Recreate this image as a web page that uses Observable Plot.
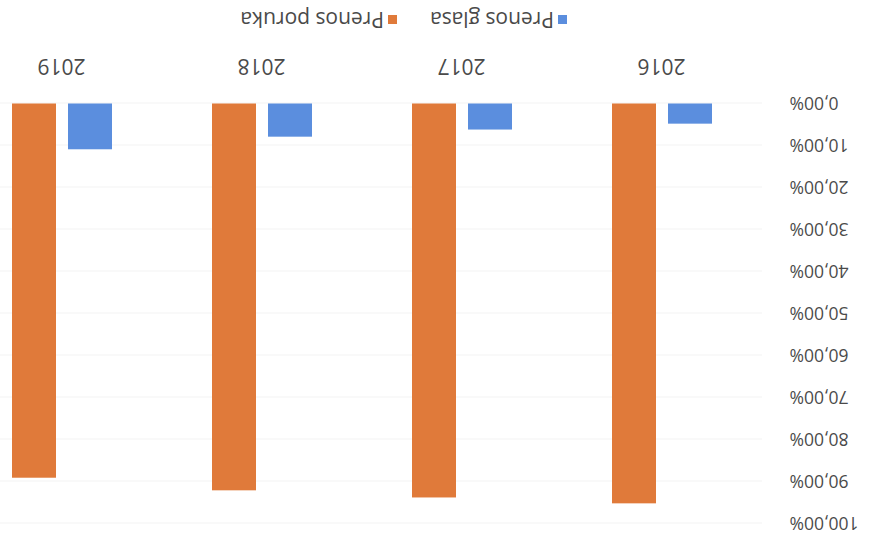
<!DOCTYPE html>
<html>
<head>
<meta charset="utf-8">
<script src="https://cdn.jsdelivr.net/npm/d3@7"></script>
<script src="https://cdn.jsdelivr.net/npm/@observablehq/plot@0.6"></script>
<style>
  html, body { margin: 0; padding: 0; background: #fff; }
  #wrap {
    position: relative; width: 876px; height: 539px; overflow: hidden;
    transform: rotate(180deg); transform-origin: 50% 50%;
    font-family: "Open Sans", sans-serif; color: #4a4a4a; background: #fff;
  }
  #chart { position: absolute; left: 0; top: 0; width: 916px; }
  #chart svg { max-width: none !important; }
  #legend {
    position: absolute; left: 309px; top: 504px; height: 30px;
    display: flex; align-items: center; font-size: 21px; white-space: nowrap;
  }
  .item { display: flex; align-items: center; margin-right: 33px; }
  .sw { width: 9px; height: 9px; margin-right: 4px; }
</style>
</head>
<body>
<div id="wrap">
  <div id="chart"></div>
  <div id="legend"></div>
</div>
<script>
const years = ["2016", "2017", "2018", "2019"];
const series = ["Prenos glasa", "Prenos poruka"];
const glasa = [4.8, 6.2, 7.9, 10.9];
const poruka = [95.2, 93.8, 92.1, 89.1];
const yTicks = [0, 10, 20, 30, 40, 50, 60, 70, 80, 90, 100];
const colors = ["#5b8ede", "#e07a3a"];

const data = years.flatMap((yr, i) => [
  { year: yr, series: series[0], value: glasa[i] },
  { year: yr, series: series[1], value: poruka[i] }
]);
const fmt = d => d.toFixed(2).replace(".", ",") + "%";

const chart = Plot.plot({
  width: 916,
  height: 500,
  marginLeft: 112,
  marginRight: 1,
  marginTop: 15.5,
  marginBottom: 64.5,
  style: { fontFamily: "Open Sans, sans-serif", fontSize: "18px", color: "#4a4a4a", background: "#fff", maxWidth: "none" },
  fx: { domain: years, paddingInner: 0, paddingOuter: 0, label: null },
  x: { domain: series, paddingInner: 0.212, paddingOuter: 0.883, axis: null },
  y: { domain: [0, 100], label: null },
  color: { domain: series, range: colors },
  marks: [
    Plot.gridY(yTicks, { stroke: "#f3f3f3", strokeOpacity: 1 }),
    Plot.barY(data, { fx: "year", x: "series", y: "value", fill: "series" }),
    Plot.axisY(yTicks, { tickFormat: fmt, tickSize: 0, tickPadding: 28, label: null, fontSize: 17.5 }),
    Plot.axisFx({ anchor: "bottom", tickSize: 0, tickPadding: 29, label: null, fontSize: 21 })
  ]
});
document.getElementById("chart").appendChild(chart);

const legend = document.getElementById("legend");
series.forEach((s, i) => {
  const item = document.createElement("div");
  item.className = "item";
  const sw = document.createElement("div");
  sw.className = "sw";
  sw.style.background = colors[i];
  const t = document.createElement("span");
  t.textContent = s;
  item.appendChild(sw);
  item.appendChild(t);
  legend.appendChild(item);
});
</script>
</body>
</html>
